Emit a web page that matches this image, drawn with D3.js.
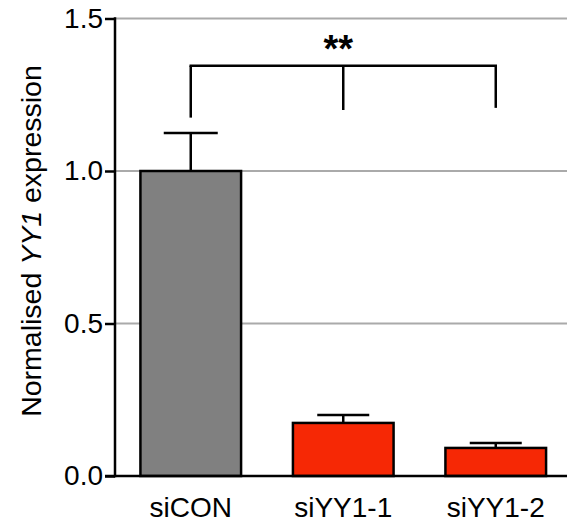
<!DOCTYPE html>
<html>
<head>
<script src="https://d3js.org/d3.v7.min.js"></script>
<style>
	body {margin: 0; background: #fff;}
	text {font-family: "Liberation Sans", Arial, sans-serif;}
</style>
</head>
<body>
<div id="chart"></div>
<script>
// data
var groups = ["siCON", "siYY1-1", "siYY1-2"];
var means = [1.0, 0.174, 0.092];
var errors = [0.125, 0.026, 0.016];
var barColors = ["#808080", "#f62805", "#f62805"];
var yTicks = [0.0, 0.5, 1.0, 1.5];
var gridValues = [0.5, 1.0, 1.5];
// significance bracket: top line and the bottom of each drop
var bracketTop = 1.345;
var bracketDrops = [1.175, 1.2, 1.207];
var sigLabel = "**";

var width = 567, height = 525;
var svg = d3.select("#chart").append("svg")
	.attr("width", width)
	.attr("height", height);

var x = d3.scaleBand().domain(groups).range([114.5, 572])
	.paddingInner(0.34).paddingOuter(0.17);
var y = d3.scaleLinear().domain([0, 1.5]).range([476, 18.5]);

// gridlines
svg.selectAll(".grid")
	.data(gridValues)
	.enter()
	.append("line")
	.attr("x1", 115)
	.attr("x2", width)
	.attr("y1", function(d) { return y(d); })
	.attr("y2", function(d) { return y(d); })
	.style("stroke", "#aaaaaa")
	.style("stroke-width", 2);

// error bars (upper only)
groups.forEach(function(g, i) {
	var cx = x(g) + x.bandwidth() / 2;
	var capW = i == 0 ? 27 : 26;
	svg.append("line")
		.attr("x1", cx).attr("x2", cx)
		.attr("y1", y(means[i])).attr("y2", y(means[i] + errors[i]))
		.style("stroke", "#000").style("stroke-width", 2.5);
	svg.append("line")
		.attr("x1", cx - capW).attr("x2", cx + capW)
		.attr("y1", y(means[i] + errors[i])).attr("y2", y(means[i] + errors[i]))
		.style("stroke", "#000").style("stroke-width", 2.5);
});

// bars
svg.selectAll(".bar")
	.data(groups)
	.enter()
	.append("rect")
	.attr("x", function(d) { return x(d); })
	.attr("y", function(d, i) { return y(means[i]); })
	.attr("width", x.bandwidth())
	.attr("height", function(d, i) { return y(0) - y(means[i]); })
	.style("fill", function(d, i) { return barColors[i]; })
	.style("stroke", "#000")
	.style("stroke-width", 2.5);

// y axis
var yAxis = d3.axisLeft(y)
	.tickValues(yTicks)
	.tickFormat(d3.format(".1f"))
	.tickSize(10)
	.tickPadding(2);
var gy = svg.append("g")
	.attr("transform", "translate(115,0)")
	.call(yAxis);
gy.select(".domain").remove();
gy.selectAll(".tick line").style("stroke", "#000").style("stroke-width", 2.5);
gy.selectAll("text").style("font-size", "28px").style("fill", "#000")
	.attr("font-family", "Liberation Sans, Arial, sans-serif");
svg.append("line")
	.attr("x1", 115).attr("x2", 115)
	.attr("y1", y(1.5) - 1.25).attr("y2", y(0) + 1.25)
	.style("stroke", "#000").style("stroke-width", 2.5);

// x axis
svg.append("line")
	.attr("x1", 105).attr("x2", width)
	.attr("y1", y(0)).attr("y2", y(0))
	.style("stroke", "#000").style("stroke-width", 2.5);
svg.selectAll(".xlabel")
	.data(groups)
	.enter()
	.append("text")
	.attr("x", function(d) { return x(d) + x.bandwidth() / 2; })
	.attr("y", 517)
	.attr("text-anchor", "middle")
	.style("font-size", "28px")
	.text(function(d) { return d; });

// y label
var ylab = svg.append("text")
	.attr("transform", "translate(41,241) rotate(-90)")
	.attr("text-anchor", "middle")
	.style("font-size", "28.5px");
ylab.append("tspan").text("Normalised ");
ylab.append("tspan").style("font-style", "italic").text("YY1");
ylab.append("tspan").text(" expression");

// significance bracket
var centers = groups.map(function(g) { return x(g) + x.bandwidth() / 2; });
svg.append("line")
	.attr("x1", centers[0] - 1.25).attr("x2", centers[2] + 1.25)
	.attr("y1", y(bracketTop)).attr("y2", y(bracketTop))
	.style("stroke", "#000").style("stroke-width", 2.5);
centers.forEach(function(cx, i) {
	svg.append("line")
		.attr("x1", cx).attr("x2", cx)
		.attr("y1", y(bracketTop)).attr("y2", y(bracketDrops[i]))
		.style("stroke", "#000").style("stroke-width", 2.5);
});
svg.append("text")
	.attr("x", centers[1] - 5)
	.attr("y", 62)
	.attr("text-anchor", "middle")
	.style("font-size", "38px")
	.style("font-weight", "bold")
	.text(sigLabel);
</script>
</body>
</html>
